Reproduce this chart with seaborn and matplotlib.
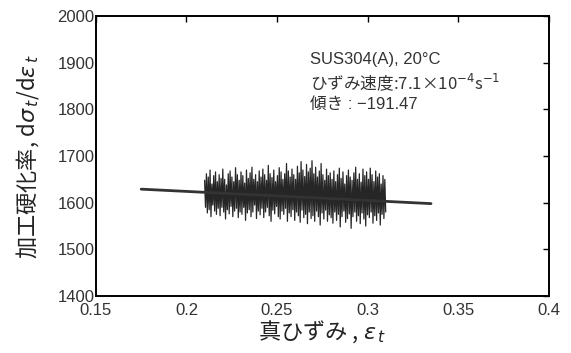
import numpy as np
import pandas as pd
import matplotlib
matplotlib.use("Agg")
import matplotlib.pyplot as plt
import seaborn as sns

# ---- data ----
strain_start = 0.21
strain_end = 0.31
highs = [1648, 1662, 1655, 1670, 1640, 1658, 1666, 1645, 1660, 1652,
         1672, 1650, 1638, 1662, 1668, 1655, 1645, 1675, 1660, 1648,
         1666, 1658, 1642, 1670, 1652, 1664, 1676, 1650, 1660, 1645,
         1668, 1655, 1672, 1660, 1648, 1680, 1662, 1654, 1670, 1645,
         1658, 1675, 1666, 1650, 1662, 1684, 1668, 1655, 1672, 1660,
         1650, 1678, 1664, 1688, 1670, 1656, 1682, 1666, 1674, 1690,
         1662, 1676, 1655, 1668, 1684, 1660, 1648, 1672, 1658, 1664,
         1650, 1668, 1645, 1660, 1674, 1652, 1666, 1640, 1658, 1670,
         1655, 1648, 1664, 1676, 1650, 1662, 1644, 1672, 1658, 1666,
         1650, 1674, 1660, 1645, 1668, 1655, 1662, 1640, 1658, 1650]
lows = [1590, 1578, 1585, 1570, 1595, 1582, 1575, 1588, 1572, 1590,
        1580, 1565, 1585, 1576, 1592, 1570, 1582, 1588, 1568, 1580,
        1575, 1590, 1562, 1578, 1585, 1570, 1580, 1595, 1566, 1582,
        1574, 1588, 1568, 1580, 1590, 1572, 1560, 1584, 1576, 1592,
        1570, 1565, 1582, 1575, 1588, 1560, 1578, 1570, 1585, 1562,
        1580, 1572, 1558, 1584, 1568, 1575, 1555, 1580, 1566, 1572,
        1560, 1582, 1570, 1552, 1578, 1565, 1584, 1560, 1574, 1568,
        1556, 1580, 1562, 1575, 1548, 1570, 1582, 1558, 1566, 1576,
        1545, 1570, 1580, 1560, 1572, 1555, 1578, 1565, 1550, 1574,
        1568, 1580, 1556, 1572, 1562, 1578, 1552, 1575, 1566, 1580]
fit_strain = [0.175, 0.335]
fit_rate = [1629, 1598]

xticks = [0.15, 0.2, 0.25, 0.3, 0.35, 0.4]
xtick_labels = ["0.15", "0.2", "0.25", "0.3", "0.35", "0.4"]
yticks = [1400, 1500, 1600, 1700, 1800, 1900, 2000]

# ---- build table ----
rate = []
for h, l in zip(highs, lows):
    rate.extend([h, l])
strain = np.linspace(strain_start, strain_end, len(rate))
df = pd.DataFrame({"strain": strain, "rate": rate})
fit_df = pd.DataFrame({"strain": fit_strain, "rate": fit_rate})

sns.set_theme(style="white")
plt.rcParams["font.family"] = ["Liberation Sans", "Noto Sans CJK JP", "DejaVu Sans"]
plt.rcParams["mathtext.fontset"] = "dejavusans"
cjk = ["Noto Sans CJK JP", "DejaVu Sans"]

fig = plt.figure(figsize=(5.71, 3.53), dpi=100)
ax = fig.add_axes([0.168, 0.1615, 0.793, 0.793])

sns.lineplot(data=df, x="strain", y="rate", ax=ax, color="black",
             linewidth=0.9, alpha=0.85, estimator=None, sort=False)
sns.lineplot(data=fit_df, x="strain", y="rate", ax=ax, color="#333333",
             linewidth=2.0, estimator=None)

ax.set_xlim(0.15, 0.4)
ax.set_ylim(1400, 2000)
ax.set_xticks(xticks)
ax.set_xticklabels(xtick_labels)
ax.set_yticks(yticks)
ax.tick_params(direction="in", length=4, width=1, top=True, right=True,
               labelsize=12, colors="black", labelcolor="#333333", pad=1)
ax.tick_params(axis="x", pad=5)
for s in ax.spines.values():
    s.set_visible(True)
    s.set_color("black")
    s.set_linewidth(1.4)

ax.set_xlabel(r"真ひずみ , $\varepsilon_{\,t}$", fontsize=16, color="#222222",
              labelpad=0, family=cjk)
ax.set_ylabel(r"加工硬化率, d$\sigma_{\,t}$/d$\varepsilon_{\,t}$", fontsize=16,
              color="#222222", labelpad=12, family=cjk)

ax.text(0.268, 1906, "SUS304(A), 20°C", fontsize=12,
        color="#333333", va="center")
ax.text(0.268, 1857, r"ひずみ速度:7.1×10$^{-4}$s$^{-1}$", fontsize=12,
        color="#333333", va="center", family=cjk)
ax.text(0.268, 1810, "傾き : −191.47", fontsize=12, color="#333333", va="center")

fig.savefig("out.png", dpi=100)
